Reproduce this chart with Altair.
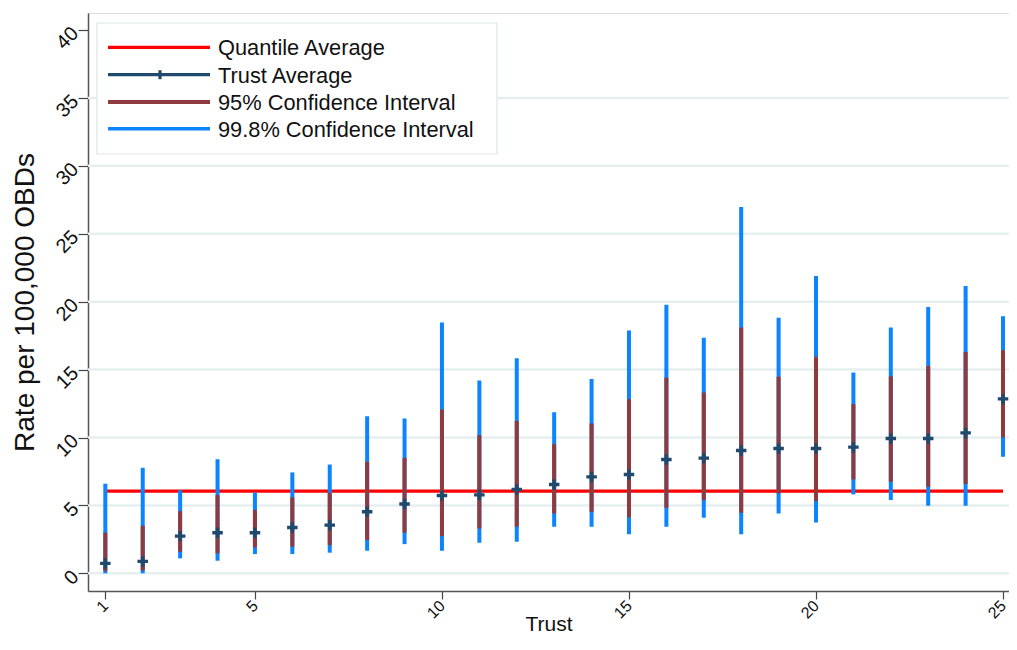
import altair as alt
import pandas as pd

# ---- data ----
trust = list(range(1, 26))
trust_mean = [0.73, 0.88, 2.74, 2.99, 2.99, 3.38, 3.55, 4.53, 5.10, 5.73, 5.78, 6.18, 6.54,
              7.10, 7.28, 8.38, 8.48, 9.04, 9.19, 9.19, 9.29, 9.93, 9.93, 10.34, 12.84]
ci95_lo = [0.15, 0.20, 1.59, 1.47, 1.91, 1.96, 2.08, 2.45, 2.99, 2.74, 3.30, 3.43, 4.41,
           4.53, 4.12, 4.82, 5.39, 4.46, 5.88, 5.32, 6.91, 6.74, 6.37, 6.57, 10.00]
ci95_hi = [2.99, 3.50, 4.58, 5.76, 4.65, 5.59, 5.93, 8.21, 8.50, 12.06, 10.17, 11.22, 9.51,
           11.03, 12.82, 14.39, 13.31, 18.09, 14.48, 15.95, 12.45, 14.50, 15.27, 16.30, 16.42]
ci998_lo = [0.00, 0.00, 1.10, 0.93, 1.42, 1.42, 1.52, 1.67, 2.15, 1.67, 2.25, 2.33, 3.43,
            3.43, 2.87, 3.43, 4.09, 2.87, 4.41, 3.75, 5.81, 5.39, 4.97, 4.97, 8.58]
ci998_hi = [6.60, 7.77, 6.12, 8.40, 5.95, 7.43, 8.01, 11.57, 11.40, 18.46, 14.20, 15.83, 11.86,
            14.31, 17.87, 19.78, 17.35, 26.96, 18.82, 21.88, 14.78, 18.09, 19.60, 21.15, 18.92]
quantile_avg = 6.05
quantile_span = [1, 25]

grid_values = [0, 5, 10, 15, 20, 25, 30, 35]
y_ticks = [0, 5, 10, 15, 20, 25, 30, 35, 40]
x_ticks = [1, 5, 10, 15, 20, 25]

legend_names = ["Quantile Average", "Trust Average", "95% Confidence Interval",
                "99.8% Confidence Interval"]
legend_colors = ["#ff0000", "#1f4a6e", "#8f3a3d", "#0b84ff"]

RED, NAVY, MAROON, BLUE = legend_colors
FONT = "Liberation Sans"

df = pd.DataFrame({
    "trust": trust, "mean": trust_mean,
    "lo95": ci95_lo, "hi95": ci95_hi,
    "lo998": ci998_lo, "hi998": ci998_hi,
})

xscale = alt.Scale(domain=[0.537, 25.16], nice=False, zero=False)
yscale = alt.Scale(domain=[-1.3, 41.25], nice=False, zero=False)

xaxis = alt.Axis(values=x_ticks, labelAngle=315, labelFontSize=16, labelFont=FONT,
                 labelColor="#111111", labelBaseline="middle", labelAlign="right",
                 tickSize=8, tickColor="#444444", tickWidth=1.2,
                 domainColor="#555555", domainWidth=1.5, grid=False,
                 title="Trust", titleFont=FONT, titleFontSize=21, titleFontWeight="normal",
                 titleColor="#111111", titleY=43, titleBaseline="bottom", labelPadding=4)
yaxis = alt.Axis(values=y_ticks, labelAngle=315, labelFontSize=20, labelFont=FONT,
                 labelColor="#111111", tickSize=10, tickColor="#444444", tickWidth=1.2,
                 domainColor="#555555", domainWidth=1.5, grid=False,
                 title="Rate per 100,000 OBDs", titleFont=FONT, titleFontSize=28,
                 titleFontWeight="normal", titleColor="#111111", titlePadding=13,
                 labelPadding=3)

base = alt.Chart(df)

grid = alt.Chart(pd.DataFrame({"g": grid_values})).mark_rule(
    color="#e6eff0", strokeWidth=2.5
).encode(y=alt.Y("g:Q", scale=yscale, axis=yaxis))

qdf = pd.DataFrame({"x1": [quantile_span[0]], "x2": [quantile_span[1]], "q": [quantile_avg]})
qline = alt.Chart(qdf).mark_rule(color=RED, strokeWidth=3.2).encode(
    x=alt.X("x1:Q", scale=xscale, axis=xaxis), x2="x2:Q",
    y=alt.Y("q:Q", scale=yscale),
)

blue = base.mark_rule(color=BLUE, strokeWidth=4, strokeCap="butt").encode(
    x=alt.X("trust:Q", scale=xscale), y=alt.Y("lo998:Q", scale=yscale), y2="hi998:Q"
)
maroon = base.mark_rule(color=MAROON, strokeWidth=4, strokeCap="butt").encode(
    x=alt.X("trust:Q", scale=xscale), y=alt.Y("lo95:Q", scale=yscale), y2="hi95:Q"
)
cross = base.mark_point(shape="M-1,0H1M0,-1V1", filled=False, color=NAVY,
                        strokeWidth=3.4, size=110, opacity=1).encode(
    x=alt.X("trust:Q", scale=xscale), y=alt.Y("mean:Q", scale=yscale)
)

# ---- legend box (drawn in pixel space of the plot) ----
one = pd.DataFrame({"k": [0]})
box = alt.Chart(one).mark_rect(fill="white", stroke="#dbe6e6", strokeWidth=1.2).encode(
    x=alt.value(9), x2=alt.value(409), y=alt.value(10), y2=alt.value(141)
)
rows_y = [34.3, 61.7, 89.0, 115.7]
widths = [3.2, 3.2, 4.2, 3.5]
legend_layers = [box]
for name, col, ry, w in zip(legend_names, legend_colors, rows_y, widths):
    legend_layers.append(
        alt.Chart(one).mark_rule(color=col, strokeWidth=w).encode(
            x=alt.value(20), x2=alt.value(122), y=alt.value(ry)
        )
    )
    legend_layers.append(
        alt.Chart(pd.DataFrame({"t": [name]})).mark_text(
            align="left", baseline="middle", font=FONT, fontSize=21.8, color="#111111"
        ).encode(text="t:N", x=alt.value(130), y=alt.value(ry + 1))
    )
legend_layers.append(
    alt.Chart(one).mark_rule(color=NAVY, strokeWidth=3.2).encode(
        x=alt.value(72), y=alt.value(rows_y[1] - 4.5), y2=alt.value(rows_y[1] + 4.5)
    )
)

chart = alt.layer(grid, qline, blue, maroon, cross, *legend_layers).properties(
    width=921, height=578,
    autosize=alt.AutoSizeParams(type="none"),
    padding={"left": 80, "top": 5, "right": 0, "bottom": 44},
).configure_view(stroke=None).configure(background="white")

chart.save("out.html", embed_options={"renderer": "svg", "actions": False})
